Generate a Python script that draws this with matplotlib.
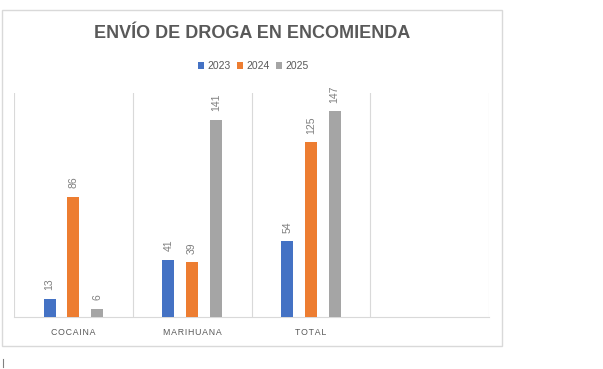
import matplotlib.pyplot as plt
from matplotlib.patches import Rectangle
from matplotlib.lines import Line2D

categories = ['COCAINA', 'MARIHUANA', 'TOTAL', '']
years = ['2023', '2024', '2025']
values = {
    '2023': [13, 41, 54],
    '2024': [86, 39, 125],
    '2025': [6, 141, 147],
}
colors = ['#4472C4', '#ED7D31', '#A5A5A5']
TEXT = '#595959'

plt.rcParams['font.family'] = ['Liberation Sans', 'DejaVu Sans']


def spaced(s, sep='\u200a'):
    return sep.join(s)


fig = plt.figure(figsize=(6.03, 3.69), dpi=100)

# chart frame
fig.add_artist(Rectangle((2 / 603, 23 / 369), 500 / 603, 336 / 369,
                         transform=fig.transFigure, fill=False,
                         edgecolor='#D9D9D9', linewidth=1))
# little cursor mark bottom left
fig.add_artist(Line2D([3 / 603, 3 / 603], [2 / 369, 10 / 369],
                      transform=fig.transFigure, color='#808080', linewidth=0.8))

ax = fig.add_axes([14 / 603, 52 / 369, 475 / 603, 224 / 369])

for j, year in enumerate(years):
    xs = [i + (j - 1) * 0.2 for i in range(len(values[year]))]
    ax.bar(xs, values[year], width=0.1, color=colors[j], label=year, zorder=3)
    for x, v in zip(xs, values[year]):
        ax.annotate(str(v), (x, v), xytext=(0, 6), textcoords='offset points',
                    rotation=90, ha='center', va='bottom', fontsize=7.5,
                    color='#7F7F7F')

ax.set_xlim(-0.5, len(categories) - 0.5)
ax.set_ylim(0, 160)
ax.set_yticks([])
ax.set_xticks(range(len(categories)))
ax.set_xticklabels([spaced(c) for c in categories], fontsize=6.3, color=TEXT)
ax.tick_params(axis='x', length=0, pad=8)
for b in [i - 0.5 for i in range(len(categories) + 1)]:
    ax.axvline(b, color='#D9D9D9', linewidth=0.8, zorder=1)
for s in ['top', 'left', 'right']:
    ax.spines[s].set_visible(False)
ax.spines['bottom'].set_color('#D9D9D9')

fig.text(252 / 603, 1 - 34 / 369, 'ENVÍO DE DROGA EN ENCOMIENDA',
         ha='center', va='center', fontsize=13, fontweight='bold', color=TEXT)

fig.legend(loc='center', bbox_to_anchor=(253 / 603, 1 - 66 / 369), ncol=3,
           frameon=False, fontsize=7.5, handlelength=0.6, handleheight=0.6,
           handletextpad=0.3, columnspacing=0.6, labelcolor=TEXT)

fig.savefig('out.png', dpi=100)
